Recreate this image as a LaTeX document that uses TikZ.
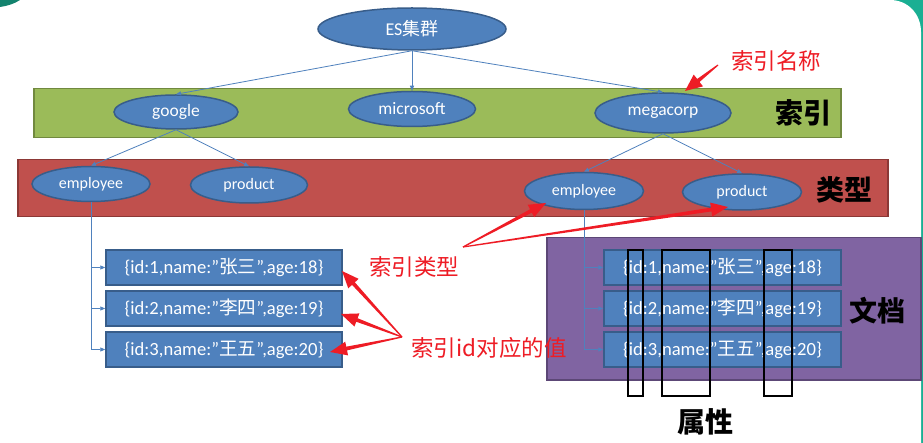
\documentclass[tikz,border=0pt]{standalone}
\usepackage{fontspec}
\setmainfont{Carlito}
\newfontfamily\cjk{Noto Sans CJK SC}
\usetikzlibrary{arrows.meta,calc,shapes.geometric}
\definecolor{ebl}{HTML}{4F81BD}
\definecolor{ebd}{HTML}{385D8A}
\definecolor{grf}{HTML}{9BBB59}
\definecolor{grd}{HTML}{71893F}
\definecolor{rdf}{HTML}{C0504D}
\definecolor{rdd}{HTML}{8C3836}
\definecolor{puf}{HTML}{8064A2}
\definecolor{pud}{HTML}{5C4776}
\definecolor{redc}{HTML}{EE1C25}
\definecolor{tealc}{HTML}{1AAF93}
\newcommand\zh[1]{{\cjk #1}}
\newcommand\redwedge[3]{%
  \path ($(#2)!17pt!(#1)$) coordinate (wh);
  \fill[redc] ($(#1)!0.6pt!90:(#2)$) -- ($(wh)!1.9pt!-90:(#1)$) -- ($(wh)!#3!-90:(#1)$) -- (#2)
     -- ($(wh)!#3!90:(#1)$) -- ($(wh)!1.9pt!90:(#1)$) -- ($(#1)!0.6pt!-90:(#2)$) -- cycle;}
\begin{document}
\begin{tikzpicture}[x=1pt,y=-1pt,
  ell/.style={ellipse,draw=ebd,fill=ebl,line width=1.5pt,inner sep=0pt,text=white,font=\fontsize{17.5}{19}\selectfont},
  band/.style={rectangle,line width=1.5pt,anchor=north west,inner sep=0pt},
  doc/.style={rectangle,draw=ebd,fill=ebl,line width=1.5pt,minimum width=236pt,minimum height=35pt,inner sep=0pt,text=white,font=\fontsize{18.6}{20}\selectfont},
  conn/.style={draw=ebl,line width=0.8pt,-{Triangle[length=5pt,width=4pt]}},
  lbl/.style={font=\cjk\bfseries\fontsize{28}{30}\selectfont},
  rtxt/.style={text=redc,font=\cjk\fontsize{22.5}{24}\selectfont},
  attr/.style={draw=black,line width=1.8pt},
]
\useasboundingbox (0,0) rectangle (923,443);
\fill[white] (0,0) rectangle (923,443);
% slide decorations
\fill[tealc] (880,0) rectangle (923,443);
\fill[white] (870,0) -- (890,0) .. controls (908,0) and (921,14) .. (921,32) -- (921,443) -- (870,443) -- cycle;
\fill[tealc!75!black] (0,0) -- (20,0) .. controls (14,4) and (7,6) .. (0,7) -- cycle;

% bands
\node[band,draw=grd,fill=grf,minimum width=807pt,minimum height=49pt] (gband) at (33,88) {};
\node[band,draw=rdd,fill=rdf,minimum width=870pt,minimum height=57pt] (rband) at (17,159) {};
\node[band,draw=pud,fill=puf,minimum width=374pt,minimum height=142pt] (pband) at (546,237) {};

% ellipses
\node[ell,minimum width=188pt,minimum height=42pt,font=\fontsize{18}{20}\selectfont] (es) at (412,29) {ES\zh{集群}};
\node[ell,minimum width=124pt,minimum height=34pt] (google) at (176,112) {google};
\node[ell,minimum width=127pt,minimum height=35pt] (ms) at (412,109) {microsoft};
\node[ell,minimum width=136pt,minimum height=40pt] (mega) at (663,113) {megacorp};
\node[ell,minimum width=118pt,minimum height=35pt,font=\fontsize{16}{18}\selectfont] (emp1) at (91,184) {employee};
\node[ell,minimum width=117pt,minimum height=36pt,font=\fontsize{16}{18}\selectfont] (prod1) at (249,185) {product};
\node[ell,minimum width=119pt,minimum height=37pt,font=\fontsize{16}{18}\selectfont] (emp2) at (584,191) {employee};
\node[ell,minimum width=119pt,minimum height=36pt,font=\fontsize{16}{18}\selectfont] (prod2) at (742,192) {product};

% connectors
\draw[conn] (es.south) -- (google.north);
\draw[conn] (es.south) -- (ms.north);
\draw[conn] (es.south) -- (mega.north);
\draw[conn] (google.south) -- (emp1.north);
\draw[conn] (google.south) -- (prod1.north);
\draw[conn] (mega.south) -- (emp2.north);
\draw[conn] (mega.south) -- (prod2.north);

% documents
\node[doc] (d1) at (224,267.5) {\{id:1,name:”\zh{张三}”,age:18\}};
\node[doc] (d2) at (224,308.5) {\{id:2,name:”\zh{李四}”,age:19\}};
\node[doc] (d3) at (224,349.5) {\{id:3,name:”\zh{王五}”,age:20\}};
\node[doc,minimum width=237pt] (r1) at (722.5,267.5) {\{id:1,name:”\zh{张三}”,age:18\}};
\node[doc,minimum width=237pt] (r2) at (722.5,308.5) {\{id:2,name:”\zh{李四}”,age:19\}};
\node[doc,minimum width=237pt] (r3) at (722.5,349.5) {\{id:3,name:”\zh{王五}”,age:20\}};

\draw[conn] (emp1.south) |- (d1.west);
\draw[conn] (emp1.south) |- (d2.west);
\draw[conn] (emp1.south) |- (d3.west);
\draw[conn] (emp2.south) |- (r1.west);
\draw[conn] (emp2.south) |- (r2.west);
\draw[conn] (emp2.south) |- (r3.west);

% attribute frames
\draw[attr] (628,250) rectangle (643,396);
\draw[attr] (662,250) rectangle (710,396);
\draw[attr] (764,250) rectangle (792,396);

% labels
\node[lbl] (lidx) at (803,113) {索引};
\node[lbl] (ltype) at (844,190) {类型};
\node[lbl] (ldoc) at (877,311) {文档};
\node[lbl] (lattr) at (705,422) {属性};

\node[rtxt] (tname) at (776,61) {索引名称};
\node[rtxt] (ttype) at (414,267) {索引类型};
\node[rtxt] (tid) at (489,348) {索引id对应的值};

% red arrows
\coordinate (c1) at (718,65);   \coordinate (h1) at (685,91);
\coordinate (c2) at (463,247);  \coordinate (h2) at (546,203); \coordinate (h3) at (728,207);
\coordinate (c3) at (402,337);  \coordinate (h4) at (342,271); \coordinate (h5) at (341,314); \coordinate (h6) at (330,352);
\redwedge{c1}{h1}{7.5pt}
\redwedge{c2}{h2}{7pt}
\redwedge{c2}{h3}{7pt}
\redwedge{c3}{h4}{7pt}
\redwedge{c3}{h5}{7pt}
\redwedge{c3}{h6}{7pt}
\end{tikzpicture}
\end{document}
